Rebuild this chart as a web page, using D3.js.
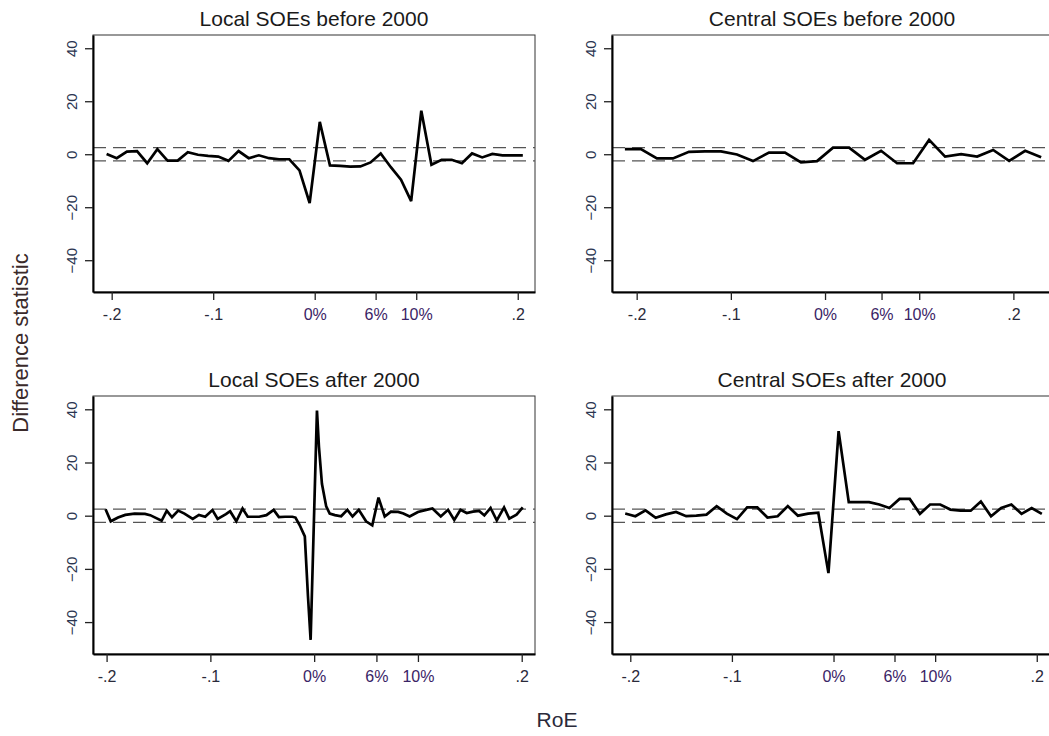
<!DOCTYPE html>
<meta charset="utf-8">
<style>
  body { margin: 0; background: #fff; }
  svg text { font-family: Arial, 'Liberation Sans', sans-serif; }
  .tick line { stroke: #222; stroke-width: 1.3; }
</style>
<body>
<div id="chart"></div>
<script src="https://cdnjs.cloudflare.com/ajax/libs/d3/7.8.5/d3.min.js"></script>
<script>
// x ticks shared by all four panels
var xTickVals = [-0.2, -0.1, 0, 0.06, 0.1, 0.2];
var xTickLabels = ["-.2", "-.1", "0%", "6%", "10%", ".2"];
var yTickVals = [-40, -20, 0, 20, 40];
var critVal = 2.5;
var titles = ["Local SOEs before 2000", "Central SOEs before 2000",
              "Local SOEs after 2000", "Central SOEs after 2000"];

// Local SOEs before 2000
var tlX = [-0.205, -0.195, -0.185, -0.175, -0.165, -0.155, -0.145, -0.135, -0.125, -0.115,
           -0.105, -0.095, -0.085, -0.075, -0.065, -0.055, -0.045, -0.035, -0.025, -0.015,
           -0.005, 0.005, 0.015, 0.025, 0.035, 0.045, 0.055, 0.065, 0.075, 0.085,
           0.095, 0.105, 0.115, 0.125, 0.135, 0.145, 0.155, 0.165, 0.175, 0.185,
           0.195, 0.205];
var tlY = [0.1, -1.5, 1.0, 1.2, -3.4, 1.9, -2.4, -2.4, 0.8, -0.2,
           -0.6, -0.9, -2.5, 1.2, -1.5, -0.4, -1.5, -1.9, -1.9, -6.1,
           -18.4, 12.2, -4.2, -4.4, -4.7, -4.6, -3.1, 0.3, -4.9, -9.6,
           -17.7, 16.4, -4.0, -2.1, -2.1, -3.4, 0.3, -1.2, 0.1, -0.4,
           -0.4, -0.4];

// Central SOEs before 2000
var trX = [-0.2125, -0.1955, -0.1785, -0.1615, -0.1445, -0.1275, -0.1105, -0.0935, -0.0765,
           -0.0595, -0.0425, -0.0255, -0.0085, 0.0085, 0.0255, 0.0425, 0.0595, 0.0765,
           0.0935, 0.1105, 0.1275, 0.1445, 0.1615, 0.1785, 0.1955, 0.2125, 0.2295];
var trY = [1.9, 1.9, -1.6, -1.6, 0.9, 1.1, 1.1, -0.1, -2.6,
           0.6, 0.6, -3.1, -2.6, 2.5, 2.5, -2.1, 1.3, -3.4,
           -3.4, 5.4, -0.9, 0, -0.9, 1.6, -2.5, 1.3, -1.1];

// Local SOEs after 2000
var blX = [-0.201, -0.196, -0.189, -0.182, -0.173, -0.163, -0.158, -0.147, -0.142, -0.137,
           -0.131, -0.125, -0.117, -0.111, -0.105, -0.098, -0.093, -0.085, -0.081, -0.075,
           -0.069, -0.064, -0.058, -0.053, -0.046, -0.039, -0.034, -0.028, -0.021, -0.018,
           -0.014, -0.009, -0.006, -0.0034, 0.0027, 0.0046, 0.0075, 0.0116, 0.015, 0.020,
           0.026, 0.032, 0.037, 0.043, 0.050, 0.056, 0.062, 0.068, 0.074, 0.081,
           0.086, 0.092, 0.100, 0.108, 0.114, 0.122, 0.129, 0.135, 0.141, 0.147,
           0.153, 0.159, 0.164, 0.170, 0.176, 0.183, 0.188, 0.195, 0.201];
var blY = [2.4, -2.1, -0.7, 0.3, 0.8, 0.7, 0.2, -1.9, 1.9, -0.6,
           1.9, 0.8, -1.2, 0.3, -0.4, 2.1, -1.2, 0.6, 1.7, -2.1,
           2.7, -0.4, -0.4, -0.4, 0.2, 2.2, -0.5, -0.4, -0.4, -0.7,
           -3.5, -7.8, -30, -46.7, 39.5, 26, 12, 3.5, 0.8, 0.2,
           -0.2, 2.2, -0.3, 2.2, -2.1, -3.6, 6.8, -0.3, 1.5, 1.4,
           0.8, -0.3, 1.4, 2.2, 2.7, -0.3, 2.2, -1.6, 2.2, 1.0,
           1.5, 1.8, 0.1, 2.9, -1.8, 3.1, -1.1, 0.4, 3.1];

// Central SOEs after 2000
var brX = tlX;
var brY = [0.8, -0.2, 2.0, -0.8, 0.5, 1.4, -0.2, 0, 0.4, 3.6,
           0.8, -1.3, 3.1, 3.1, -0.7, -0.2, 3.6, 0, 0.8, 1.1,
           -21.6, 31.8, 5.1, 5.1, 5.1, 4.2, 2.9, 6.3, 6.3, 0.7,
           4.2, 4.2, 2.3, 1.9, 1.9, 5.3, -0.2, 2.9, 4.2, 0.7,
           2.9, 0.7];

var W = 1049, H = 736;
var svg = d3.select("#chart").append("svg")
    .attr("width", W)
    .attr("height", H)
    .style("display", "block");

svg.append("rect").attr("width", W).attr("height", H).attr("fill", "#fff");

// panel boxes (pixels) and the x range shown in each
var panels = [
    {left: 93,  right: 535,  top: 35,  bottom: 292, xd: [-0.2184, 0.217],  xs: tlX, ys: tlY, title: titles[0]},
    {left: 612, right: 1052, top: 35,  bottom: 292, xd: [-0.2262, 0.241],  xs: trX, ys: trY, title: titles[1]},
    {left: 93,  right: 535,  top: 396, bottom: 654, xd: [-0.2131, 0.2128], xs: blX, ys: blY, title: titles[2]},
    {left: 612, right: 1052, top: 396, bottom: 654, xd: [-0.218, 0.215],   xs: brX, ys: brY, title: titles[3]}
];

panels.forEach(function(p) {
    var x = d3.scaleLinear().domain(p.xd).range([p.left, p.right]);
    var y = d3.scaleLinear().domain([-52, 45]).range([p.bottom, p.top]);
    var g = svg.append("g");

    g.append("rect")
        .attr("x", p.left).attr("y", p.top)
        .attr("width", p.right - p.left).attr("height", p.bottom - p.top)
        .attr("fill", "none").attr("stroke", "#333").attr("stroke-width", 1);

    // critical value band
    [critVal, -critVal].forEach(function(c) {
        g.append("line")
            .attr("x1", p.left).attr("x2", p.right)
            .attr("y1", y(c)).attr("y2", y(c))
            .attr("stroke", "#555").attr("stroke-width", 1.3)
            .attr("stroke-dasharray", "13,7");
    });

    var pts = p.xs.map(function(d, i) { return [d, p.ys[i]]; });
    var line = d3.line().x(function(d) { return x(d[0]); }).y(function(d) { return y(d[1]); });
    g.append("path")
        .datum(pts)
        .attr("d", line)
        .attr("fill", "none")
        .attr("stroke", "#000")
        .attr("stroke-width", 2.7)
        .attr("stroke-linejoin", "miter")
        .attr("stroke-miterlimit", 3);

    var xa = g.append("g")
        .attr("transform", "translate(0," + p.bottom + ")")
        .call(d3.axisBottom(x)
            .tickValues(xTickVals)
            .tickFormat(function(d, i) { return xTickLabels[i]; })
            .tickSize(8)
            .tickSizeOuter(0)
            .tickPadding(9));
    xa.select(".domain").attr("stroke", "#000").attr("stroke-width", 2);
    xa.selectAll("text").style("font-size", "16px")
        .attr("fill", function(d) { return (d === 0 || d === 0.06 || d === 0.1) ? "#3a2466" : "#2a2a3a"; });

    var ya = g.append("g")
        .attr("transform", "translate(" + p.left + ",0)")
        .call(d3.axisLeft(y)
            .tickValues(yTickVals)
            .tickFormat(d3.format("d"))
            .tickSize(8)
            .tickSizeOuter(0));
    ya.select(".domain").attr("stroke", "#000").attr("stroke-width", 2);
    ya.selectAll(".tick text")
        .style("font-size", "15px")
        .attr("x", null).attr("dy", null)
        .attr("text-anchor", "middle")
        .attr("dominant-baseline", "central")
        .attr("transform", "translate(-22,0) rotate(-90)")
        .attr("fill", "#2a3550");

    g.append("text")
        .attr("x", (p.left + p.right) / 2)
        .attr("y", p.top - 17)
        .attr("text-anchor", "middle")
        .attr("dominant-baseline", "central")
        .style("font-size", "21px")
        .attr("fill", "#1a1a1a")
        .text(p.title);
});

svg.append("text")
    .attr("transform", "translate(20,343) rotate(-90)")
    .attr("text-anchor", "middle")
    .attr("dominant-baseline", "central")
    .style("font-size", "22px")
    .attr("fill", "#3a2a2a")
    .text("Difference statistic");

svg.append("text")
    .attr("x", 557).attr("y", 719)
    .attr("text-anchor", "middle")
    .attr("dominant-baseline", "central")
    .style("font-size", "21px")
    .attr("fill", "#2a2a3a")
    .text("RoE");
</script>
</body>
